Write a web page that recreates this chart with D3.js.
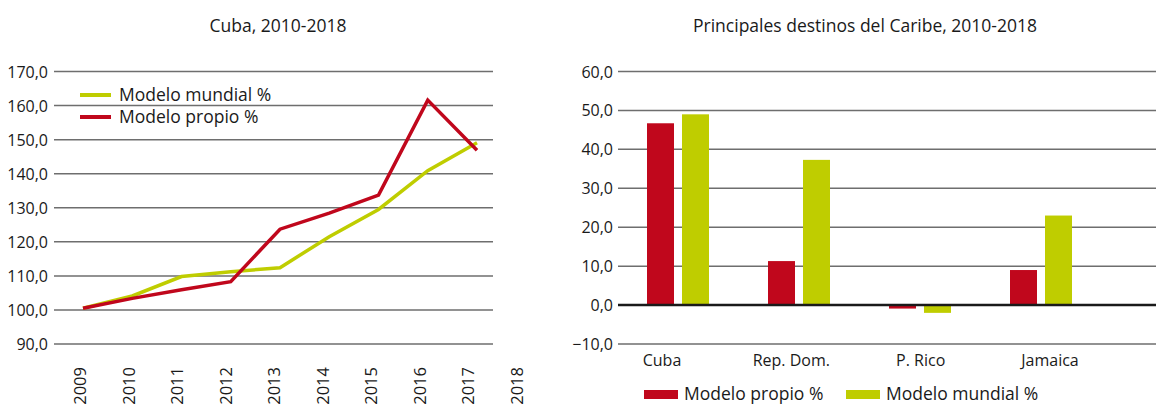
<!DOCTYPE html>
<html>
<head>
<meta charset="utf-8">
<script src="https://cdn.jsdelivr.net/npm/d3@7"></script>
<style>
  body { margin: 0; background: #fff; }
  text { font-family: "Open Sans", "Noto Sans", sans-serif; fill: #1a1a1a; }
  .title { font-family: "Liberation Sans Narrow", "Open Sans", sans-serif; }
  .grid line { stroke: #6e6e6e; stroke-width: 1.5; }
</style>
</head>
<body>
<svg id="chart" width="1156" height="408"></svg>
<script>
// left chart: Cuba index
let years = ["2010", "2011", "2012", "2013", "2014", "2015", "2016", "2017", "2018"];
let yearLabels = ["2009", "2010", "2011", "2012", "2013", "2014", "2015", "2016", "2017", "2018"];
let mundial = [100.5, 104.1, 109.8, 111.2, 112.4, 121.5, 129.5, 140.9, 149.1];
let propio = [100.5, 103.4, 105.9, 108.3, 123.7, 128.4, 133.7, 161.6, 146.9];
let leftTicks = [90, 100, 110, 120, 130, 140, 150, 160, 170];

// right chart: Caribbean destinations
let destinos = ["Cuba", "Rep. Dom.", "P. Rico", "Jamaica"];
let barPropio = [46.7, 11.3, -0.9, 9.0];
let barMundial = [49.0, 37.3, -2.0, 23.0];
let rightTicks = [-10, 0, 10, 20, 30, 40, 50, 60];

let red = "#c0071c";
let green = "#bfcd00";
let fmt = d => d3.format(".1f")(d).replace(".", ",");

let svg = d3.select("#chart");

// ---------- left chart ----------
let left = svg.append("g");

left.append("text")
  .attr("class", "title")
  .attr("x", 278).attr("y", 32)
  .attr("text-anchor", "middle")
  .attr("font-size", 17.5)
  .text("Cuba, 2010-2018");

let yL = d3.scaleLinear().domain([90, 170]).range([344, 71.5]);
let xL = d3.scalePoint().domain(years).range([83, 477]);
let xLab = d3.scalePoint().domain(yearLabels).range([80, 517]);

left.append("g")
  .attr("class", "grid")
  .selectAll("line")
  .data(leftTicks)
  .join("line")
  .attr("x1", 54).attr("x2", 493)
  .attr("y1", d => yL(d)).attr("y2", d => yL(d));

left.append("g")
  .selectAll("text")
  .data(leftTicks)
  .join("text")
  .attr("x", 48)
  .attr("y", d => yL(d) + 6)
  .attr("text-anchor", "end")
  .attr("font-size", 16)
  .text(fmt);

left.append("g")
  .selectAll("text")
  .data(yearLabels)
  .join("text")
  .attr("transform", d => "translate(" + (xLab(d) + 6) + ",367)rotate(-90)")
  .attr("text-anchor", "end")
  .attr("font-size", 16.5)
  .text(d => d);

let line = d3.line()
  .x((d, i) => xL(years[i]))
  .y(d => yL(d));

left.append("path")
  .datum(mundial)
  .attr("d", line)
  .attr("fill", "none")
  .attr("stroke", green)
  .attr("stroke-width", 3.5);

left.append("path")
  .datum(propio)
  .attr("d", line)
  .attr("fill", "none")
  .attr("stroke", red)
  .attr("stroke-width", 3.5);

let legL = [["Modelo mundial %", green, 95], ["Modelo propio %", red, 117]];
legL.forEach(function(l) {
  left.append("line")
    .attr("x1", 80).attr("x2", 111)
    .attr("y1", l[2]).attr("y2", l[2])
    .attr("stroke", l[1])
    .attr("stroke-width", 4);
  left.append("text")
    .attr("x", 119).attr("y", l[2] + 6)
    .attr("font-size", 17.5)
    .text(l[0]);
});

// ---------- right chart ----------
let right = svg.append("g");

right.append("text")
  .attr("class", "title")
  .attr("x", 865).attr("y", 32)
  .attr("text-anchor", "middle")
  .attr("font-size", 17.5)
  .text("Principales destinos del Caribe, 2010-2018");

let yR = d3.scaleLinear().domain([-10, 60]).range([344, 71.5]);
let x0 = d3.scaleBand().domain(destinos).range([586.5, 1132.5]).paddingInner(0.4876).paddingOuter(0.5);
let x1 = d3.scaleBand().domain(["propio", "mundial"]).range([0, x0.bandwidth()]).paddingInner(0.2286);
let xCat = d3.scalePoint().domain(destinos).range([662, 1050]);

right.append("g")
  .attr("class", "grid")
  .selectAll("line")
  .data(rightTicks.filter(d => d !== 0))
  .join("line")
  .attr("x1", 618).attr("x2", 1156)
  .attr("y1", d => yR(d)).attr("y2", d => yR(d));

right.append("g")
  .selectAll("text")
  .data(rightTicks)
  .join("text")
  .attr("x", 613)
  .attr("y", d => yR(d) + 6)
  .attr("text-anchor", "end")
  .attr("font-size", 16)
  .text(fmt);

let series = [["propio", barPropio, red], ["mundial", barMundial, green]];
series.forEach(function(s) {
  right.append("g")
    .selectAll("rect")
    .data(s[1])
    .join("rect")
    .attr("x", (d, i) => x0(destinos[i]) + x1(s[0]))
    .attr("width", x1.bandwidth())
    .attr("y", d => yR(Math.max(0, d)))
    .attr("height", d => Math.abs(yR(d) - yR(0)))
    .attr("fill", s[2]);
});

right.append("line")
  .attr("x1", 618).attr("x2", 1156)
  .attr("y1", yR(0)).attr("y2", yR(0))
  .attr("stroke", "#1a1a1a")
  .attr("stroke-width", 2.5);

right.append("g")
  .selectAll("text")
  .data(destinos)
  .join("text")
  .attr("x", d => xCat(d))
  .attr("y", 366)
  .attr("text-anchor", "middle")
  .attr("font-size", 16)
  .text(d => d);

let legR = [["Modelo propio %", red, 644], ["Modelo mundial %", green, 846]];
legR.forEach(function(l) {
  right.append("rect")
    .attr("x", l[2]).attr("y", 390)
    .attr("width", 34).attr("height", 9)
    .attr("fill", l[1]);
  right.append("text")
    .attr("x", l[2] + 40).attr("y", 400)
    .attr("font-size", 17.5)
    .text(l[0]);
});
</script>
</body>
</html>
